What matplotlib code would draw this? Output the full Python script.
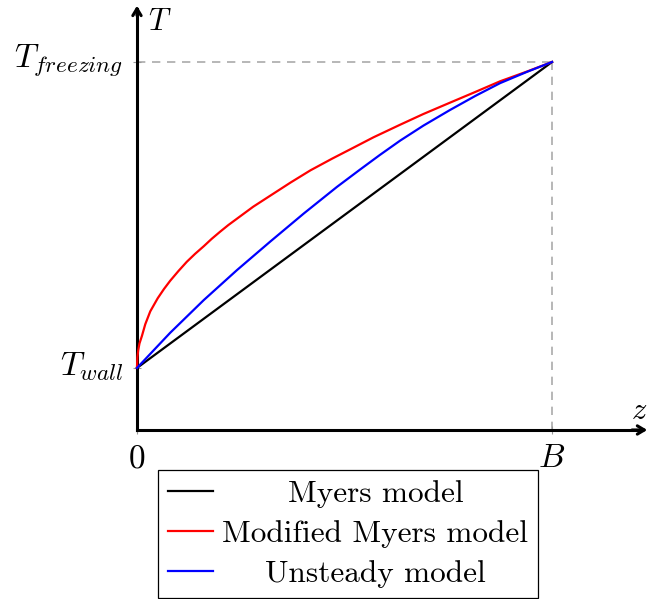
import matplotlib
matplotlib.use('Agg')
import matplotlib.pyplot as plt
from matplotlib.transforms import ScaledTranslation

# --- Datos (z normalizado por B, T normalizado entre T_wall y T_freezing) ---
z_myers = [0.0, 1.0]
T_myers = [0.0, 1.0]

z_mod = [0.0, 0.001, 0.003, 0.006, 0.012, 0.02, 0.032, 0.05, 0.065, 0.08, 0.1, 0.12, 0.14,
         0.161, 0.18, 0.2, 0.22, 0.241, 0.28, 0.321, 0.37, 0.418, 0.47, 0.513, 0.57, 0.634,
         0.69, 0.754, 0.815, 0.875, 0.94, 1.0]
T_mod = [0.0, 0.035, 0.058, 0.08, 0.105, 0.143, 0.185, 0.228, 0.258, 0.285, 0.317, 0.347, 0.373,
         0.398, 0.422, 0.445, 0.467, 0.488, 0.527, 0.563, 0.606, 0.646, 0.684, 0.714, 0.754, 0.795,
         0.83, 0.867, 0.902, 0.937, 0.969, 1.0]

z_uns = [0.0, 0.08, 0.161, 0.241, 0.321, 0.402, 0.482, 0.537, 0.585, 0.634, 0.69, 0.754,
         0.815, 0.875, 0.94, 1.0]
T_uns = [0.0, 0.115, 0.222, 0.320, 0.413, 0.505, 0.592, 0.648, 0.696, 0.743, 0.792, 0.843,
         0.889, 0.931, 0.968, 1.0]

etiquetas = ['Myers model', 'Modified Myers model', 'Unsteady model']
colores = ['black', 'red', 'blue']

Y0 = -0.2026          # nivel del eje z
XMAX, YMAX = 1.236, 1.193

plt.rcParams['mathtext.fontset'] = 'cm'
FS = 24

fig = plt.figure(figsize=(6.5, 5.99), dpi=100)
ax = fig.add_axes([0, 0, 1, 1])
ax.set_xlim(-0.330, XMAX)
ax.set_ylim(-0.755, 1.2026)

# Ejes tipo pgfplots: spines en el origen, con flechas
for lado in ['top', 'right']:
    ax.spines[lado].set_visible(False)
ax.spines['left'].set_position(('data', 0))
ax.spines['bottom'].set_position(('data', Y0))
ax.spines['left'].set_bounds(Y0, YMAX - 0.02)
ax.spines['bottom'].set_bounds(0, XMAX - 0.02)
for lado in ['left', 'bottom']:
    ax.spines[lado].set_linewidth(2.2)
ax.annotate('', xy=(0, YMAX), xytext=(0, YMAX - 0.05),
            arrowprops=dict(arrowstyle='->,head_length=0.5,head_width=0.3', lw=2.2, color='black'))
ax.annotate('', xy=(XMAX, Y0), xytext=(XMAX - 0.05, Y0),
            arrowprops=dict(arrowstyle='->,head_length=0.5,head_width=0.3', lw=2.2, color='black'))

ax.set_xticks([0, 1], ['$0$', '$B$'])
ax.set_yticks([0, 1], ['$T_{wall}$', '$T_{freezing}$'])
ax.tick_params(direction='inout', length=6, width=0.8, color='#999999',
               labelsize=FS, pad=7)
ax.tick_params(axis='x', pad=5)
# subir un poco las etiquetas de y (anclaje tipo LaTeX)
for lab, dy in zip(ax.get_yticklabels(), [3.5, 5.5]):
    lab.set_transform(lab.get_transform() + ScaledTranslation(0, dy / 72, fig.dpi_scale_trans))

# Líneas guía discontinuas
ax.plot([0, 1], [1, 1], color='#aaaaaa', lw=1.2, ls=(0, (5, 4)), zorder=1)
ax.plot([1, 1], [Y0, 1], color='#aaaaaa', lw=1.2, ls=(0, (5, 4)), zorder=1)

# Curvas
for z, T, lab, col in zip([z_myers, z_mod, z_uns], [T_myers, T_mod, T_uns], etiquetas, colores):
    ax.plot(z, T, color=col, lw=1.6, label=lab, zorder=3)

ax.text(0.027, 1.18, '$T$', fontsize=FS - 2, ha='left', va='top')
ax.text(1.21, -0.185, '$z$', fontsize=FS - 2, ha='center', va='bottom')

leg = ax.legend(loc='upper center', bbox_to_anchor=(348 / 650, 1 - 470 / 599),
                bbox_transform=fig.transFigure, prop={'family': 'cmr10', 'size': 22.5},
                frameon=True, fancybox=False, edgecolor='black', framealpha=1,
                borderaxespad=0, borderpad=0.32, handlelength=1.45, handletextpad=0.3,
                labelspacing=0.38)
leg.get_frame().set_linewidth(0.9)

# Centrar el texto de la leyenda como en pgfplots
fig.canvas.draw()
anchos = [t.get_window_extent().width for t in leg.get_texts()]
for t, w in zip(leg.get_texts(), anchos):
    t.set_x((max(anchos) - w) / 2)

fig.savefig('out.png', dpi=100, facecolor='white')
